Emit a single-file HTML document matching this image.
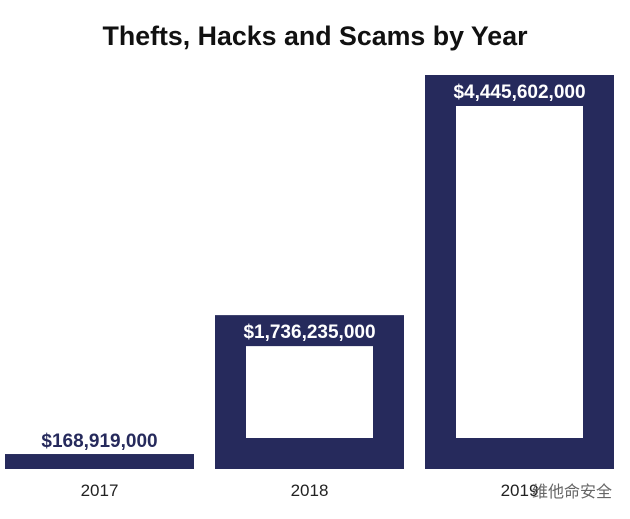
<!DOCTYPE html>
<html><head><meta charset="utf-8"><style>
body{margin:0;background:#fff;width:630px;height:514px;overflow:hidden;font-family:"Liberation Sans","Noto Sans CJK SC",sans-serif}
</style></head><body>
<svg id="c" width="630" height="514">
<text x="315" y="45" text-anchor="middle" font-size="27" font-weight="bold" fill="#111" textLength="425" lengthAdjust="spacingAndGlyphs">Thefts, Hacks and Scams by Year</text>
<g id="bars"></g>
<text x="532" y="497" font-size="16" fill="#666" font-family="Noto Sans CJK SC, sans-serif">维他命安全</text>
</svg>
<script>
const years=["2017","2018","2019"];
const values=[168919000,1736235000,4445602000];
const valueLabels=["$168,919,000","$1,736,235,000","$4,445,602,000"];
const baseY=469, plotTop=75, maxV=4445602000, ns="http://www.w3.org/2000/svg";
const yScale=v=>baseY-(v/maxV)*(baseY-plotTop);
const xL=i=>5+i*210, bw=189, t=31;
const g=document.getElementById('bars'), navy="#262a5c";
function el(n,a){const e=document.createElementNS(ns,n);for(const k in a)e.setAttribute(k,a[k]);return e;}
years.forEach((yr,i)=>{
  const yt=yScale(values[i]), h=baseY-yt;
  const r=el('rect',{x:xL(i),y:yt,width:bw,height:h,fill:navy});
  
  
  g.appendChild(r);
  let tx;
  if(h>2*t+20){
    const inner=el('rect',{x:xL(i)+t,y:yt+t,width:bw-2*t,height:h-2*t,fill:"#fff"});
    
    
    g.appendChild(inner);
    tx=el('text',{x:xL(i)+bw/2,y:yt+23,'text-anchor':'middle','font-size':19,'font-weight':'bold',fill:'#fff'});
  }else{
    tx=el('text',{x:xL(i)+bw/2,y:yt-7,'text-anchor':'middle','font-size':19,'font-weight':'bold',fill:navy});
  }
  tx.textContent=valueLabels[i];
  
  
  g.appendChild(tx);
  const yl=el('text',{x:xL(i)+bw/2,y:496,'text-anchor':'middle','font-size':17,fill:'#222'});
  yl.textContent=yr;
  
  
  g.appendChild(yl);
});
</script>
</body></html>
